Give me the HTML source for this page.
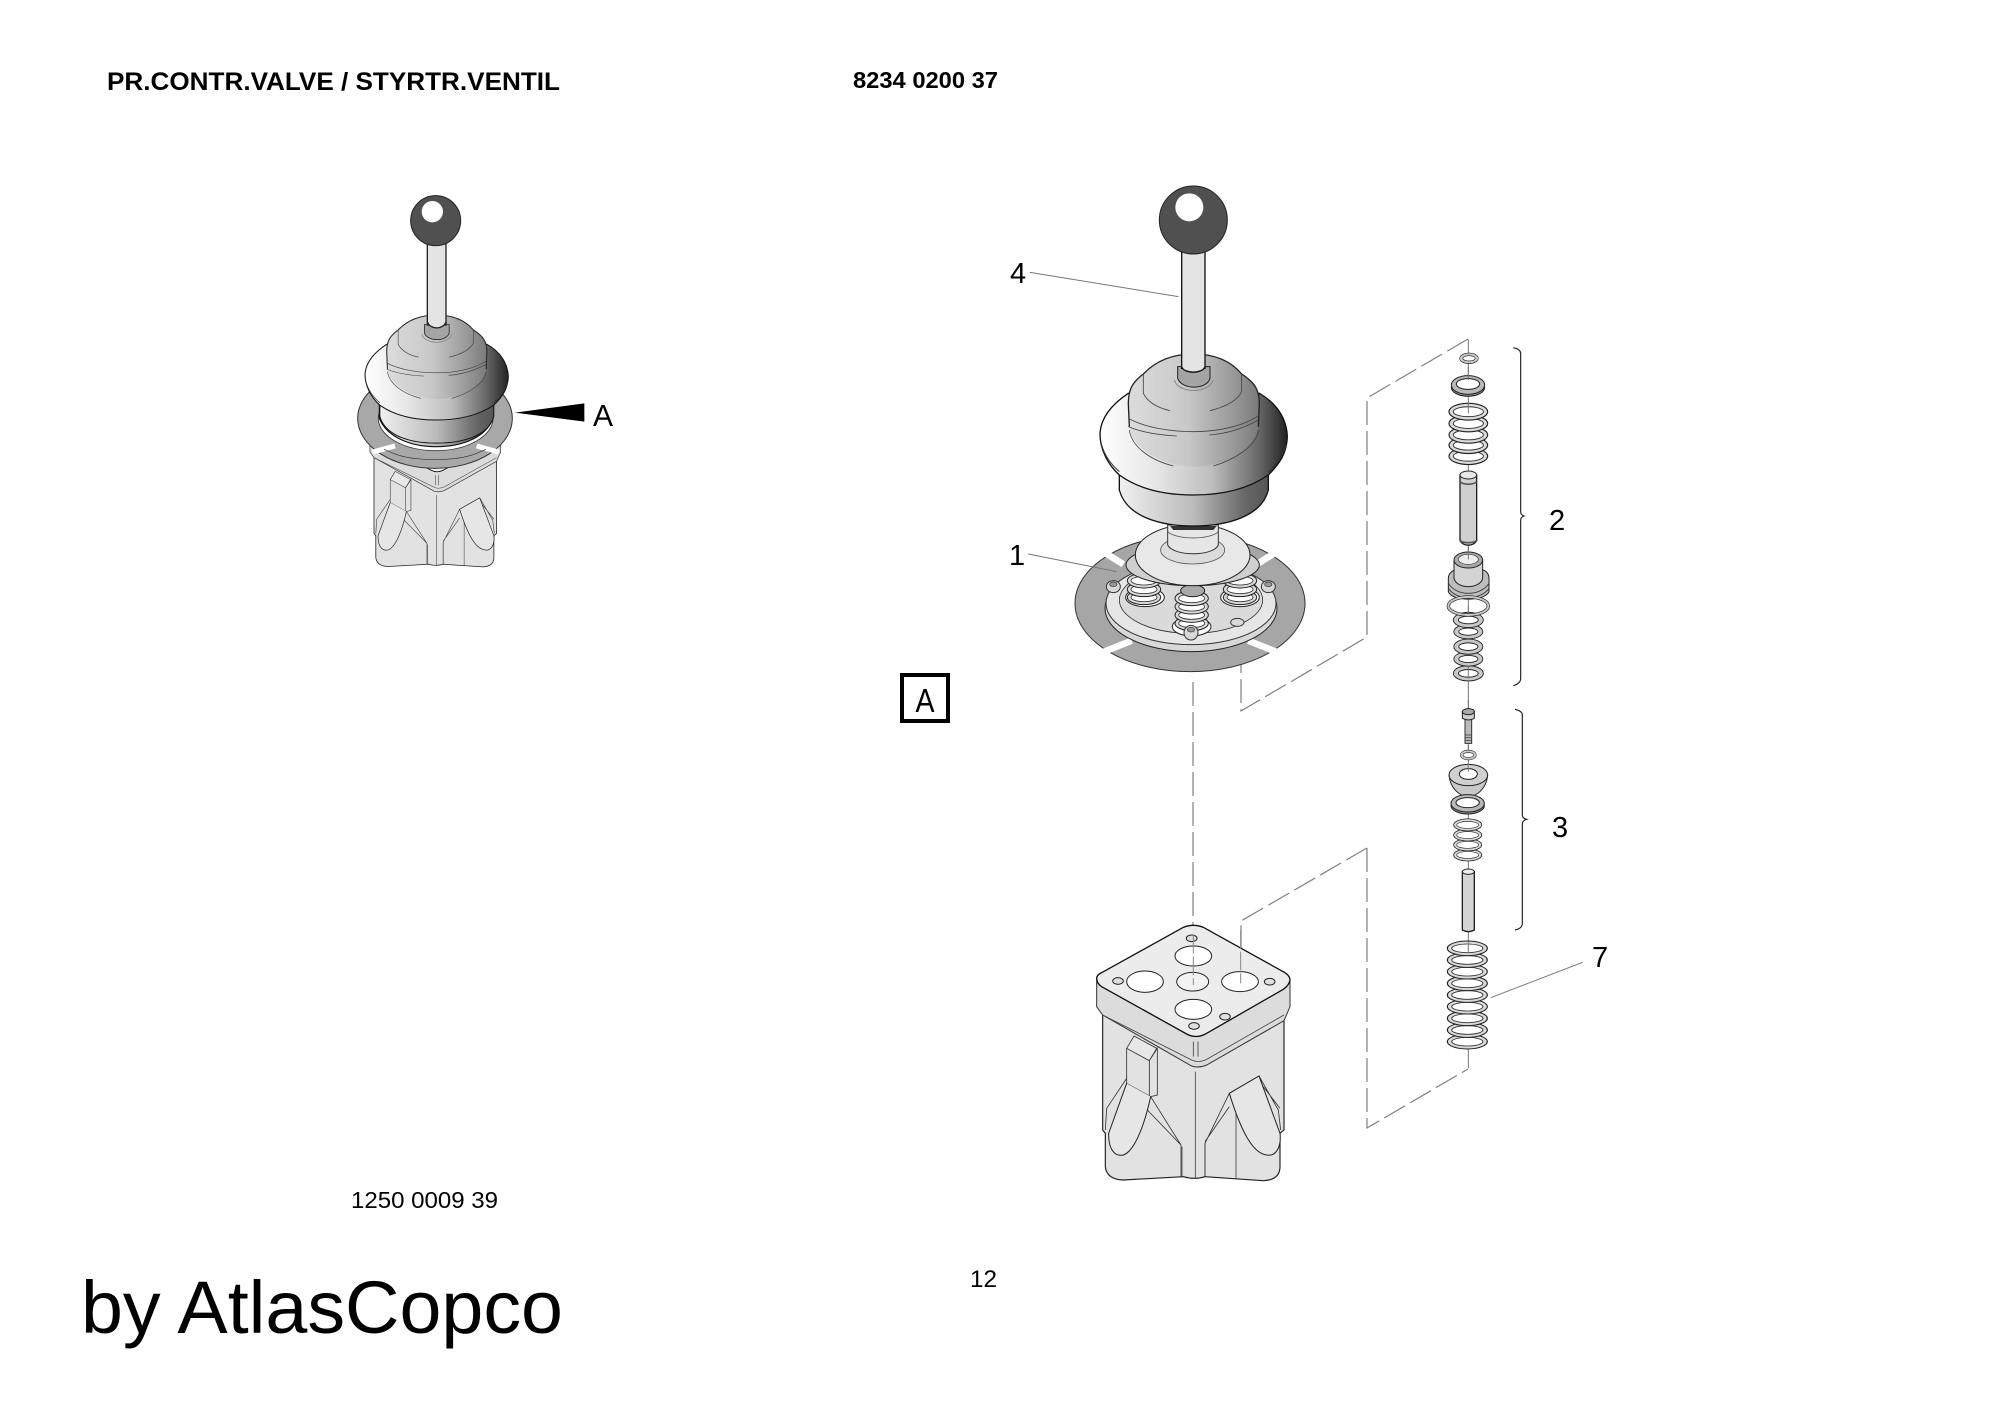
<!DOCTYPE html>
<html><head><meta charset="utf-8"><style>
html,body{margin:0;padding:0;background:#fff}
svg{display:block}
text{font-family:"Liberation Sans",sans-serif;fill:#000}
</style></head><body>
<svg xmlns="http://www.w3.org/2000/svg" width="2000" height="1413" viewBox="0 0 2000 1413">
<defs>
<linearGradient id="gf" x1="0" x2="1" y1="0" y2="0"><stop offset="0" stop-color="#fff"/><stop offset=".3" stop-color="#e6e6e6"/><stop offset=".6" stop-color="#bdbdbd"/><stop offset=".85" stop-color="#666"/><stop offset="1" stop-color="#222"/></linearGradient>
<linearGradient id="gb" x1="0" x2="1" y1="0" y2="0"><stop offset="0" stop-color="#dcdcdc"/><stop offset=".45" stop-color="#c8c8c8"/><stop offset=".8" stop-color="#999"/><stop offset="1" stop-color="#7a7a7a"/></linearGradient>
<linearGradient id="gc" x1="0" x2="1" y1="0" y2="0"><stop offset="0" stop-color="#f0f0f0"/><stop offset=".5" stop-color="#bbb"/><stop offset=".85" stop-color="#666"/><stop offset="1" stop-color="#555"/></linearGradient>
<g id="boot">
<path d="M358,900L358,960C380,1040 480,1068 580,1068C680,1068 785,1040 805,960L805,900Z" fill="url(#gc)" stroke="#111" stroke-width="4"/>
<path d="M300,790C303,740 340,700 385,670L778,670C830,700 860,745 862,800C860,850 840,880 805,915C740,960 660,975 580,975C500,975 420,960 358,915C325,885 300,840 300,790Z" fill="url(#gf)" stroke="#111" stroke-width="4"/>
<path d="M305,825C315,860 335,885 358,905M858,825C848,860 828,885 805,905" fill="none" stroke="#333" stroke-width="3"/>
<path d="M385,700C385,655 400,635 430,612C470,570 520,552 580,552C640,552 690,570 725,612C760,635 778,655 778,700L775,770C770,830 680,890 580,890C480,890 392,830 388,770Z" fill="url(#gb)"/>
<path d="M388,770L385,700C385,655 400,635 430,612C470,570 520,552 580,552C640,552 690,570 725,612C760,635 778,655 778,700L775,770" fill="none" stroke="#222" stroke-width="4"/>
<path d="M430,612L430,670C445,700 480,715 510,722M725,612L725,665C710,695 670,712 630,722M385,745C440,775 520,785 580,785C650,785 730,770 778,735M385,770C420,785 470,795 530,798M628,795C690,790 740,770 775,750M388,780C395,830 450,870 520,888M640,888C700,870 770,830 775,780" fill="none" stroke="#444" stroke-width="2.5"/>
<path d="M533,590L533,625C545,660 620,660 630,625L630,590Z" fill="#a4a4a4" stroke="#222" stroke-width="3"/>
<path d="M523,630C535,672 625,672 640,630" fill="none" stroke="#888" stroke-width="3"/>
</g>
<g id="block">
<path d="M128,340L128,690L136,700L136,800Q140,838 190,840L370,830Q405,840 435,830L610,842Q660,840 660,800L660,700L672,690L672,350L420,500Z" fill="#e2e2e2" stroke="#222" stroke-width="3.5"/>
<path d="M110,235L110,320L128,345L395,498Q415,505 440,495L672,362L690,320L690,240L420,300Z" fill="#dcdcdc" stroke="#333" stroke-width="3"/>
<path d="M110,235Q110,225 125,218L370,82Q400,70 430,82L675,218Q690,228 690,240Q688,255 670,268L440,400Q410,418 380,402L125,260Q110,250 110,235Z" fill="#ececec" stroke="#111" stroke-width="4"/>
<path d="M128,345L395,480Q415,490 440,478L672,345" fill="none" stroke="#444" stroke-width="2.5"/>
<g fill="#fff" stroke="#222" stroke-width="3">
<ellipse cx="255" cy="245" rx="55" ry="32"/><ellipse cx="400" cy="168" rx="55" ry="30"/><ellipse cx="400" cy="328" rx="55" ry="30"/><ellipse cx="540" cy="245" rx="55" ry="30"/>
</g>
<ellipse cx="398" cy="245" rx="48" ry="28" fill="#f2f2f2" stroke="#222" stroke-width="3"/>
<g fill="#e0e0e0" stroke="#222" stroke-width="3">
<ellipse cx="174" cy="243" rx="16" ry="10"/><ellipse cx="629" cy="245" rx="16" ry="10"/><ellipse cx="495" cy="350" rx="16" ry="10"/><ellipse cx="402" cy="378" rx="16" ry="10"/><ellipse cx="395" cy="115" rx="16" ry="10"/>
</g>
<path d="M400,425V470M414,425V470M406,515V835M366,740V830M435,730V830M528,640V835" fill="none" stroke="#444" stroke-width="2.5"/>
<path d="M222,408L290,445L268,482L200,445Z" fill="#e8e8e8" stroke="#333" stroke-width="2.5"/>
<path d="M200,445L200,550L272,590L292,585L292,445L268,482L268,590" fill="#e2e2e2" stroke="#333" stroke-width="2.5"/>
<path d="M200,535L140,625L136,690M272,590L363,735V830M262,630L363,735" fill="none" stroke="#333" stroke-width="2.5"/>
<path d="M200,550L146,700C145,750 165,770 190,765C220,755 250,690 272,590" fill="#e6e6e6" stroke="#222" stroke-width="3"/>
<path d="M597,528L508,580L435,730V830M508,620L435,725M597,528L655,630L662,690M610,560L660,625" fill="none" stroke="#333" stroke-width="2.5"/>
<path d="M508,580L597,528L660,700C665,745 645,770 620,765C580,760 545,700 508,580Z" fill="#e6e6e6" stroke="#222" stroke-width="3"/>
</g>
<g id="coil"><ellipse rx="50" ry="22" fill="#dadada" stroke="#222" stroke-width="3"/><ellipse rx="39" ry="13" fill="#fff" stroke="#333" stroke-width="2.5"/></g>
<g id="ring"><ellipse rx="50" ry="24" fill="#c8c8c8" stroke="#222" stroke-width="3"/><ellipse rx="33" ry="12" fill="#fff" stroke="#222" stroke-width="3"/></g>
</defs>
<rect width="2000" height="1413" fill="#fff"/>

<!-- dashed connectors -->
<g fill="none" stroke="#808080" stroke-width="1.2" stroke-dasharray="24 6">
<path d="M1468,339L1367,398L1367,637L1241,711L1241,665"/>
<path d="M1367,848L1241,921L1241,985"/>
<path d="M1193,682L1193,987"/>
<path d="M1367,848L1367,1128L1468,1069"/>
</g>

<!-- small joystick -->
<g transform="translate(300 170) scale(.33333)">
<use href="#block" transform="translate(222 965) scale(.676 .66) translate(-128 -500)"/>
<ellipse cx="405" cy="745" rx="232" ry="150" fill="#a8a8a8" stroke="#333" stroke-width="3"/>
<path d="M285,828L218,846M530,828L596,846" stroke="#fff" stroke-width="15"/>
<path d="M252,838L280,850C340,875 470,875 530,850L558,838" fill="none" stroke="#333" stroke-width="2"/>
<ellipse cx="407" cy="745" rx="172" ry="97" fill="#fff" stroke="#333" stroke-width="2.5"/>
<path d="M238,650L238,745C260,800 330,830 408,830C490,830 560,800 578,745L578,650Z" fill="url(#gc)" stroke="#111" stroke-width="3.5"/>
<use href="#boot" transform="translate(410 435) scale(.765 .745) translate(-581 -552)"/>
<rect x="382" y="200" width="56" height="265" fill="#e4e4e4" stroke="#222" stroke-width="4"/>
<path d="M382,455C390,480 430,480 438,455" fill="#e4e4e4" stroke="#222" stroke-width="4"/>
<circle cx="407" cy="152" r="75" fill="#505050" stroke="#222" stroke-width="3"/>
<circle cx="397" cy="125" r="32" fill="#fff"/>
<path d="M645,728L853,700L853,755Z" fill="#000"/>
</g>

<!-- large joystick -->
<g transform="translate(1000 170) scale(.33333)">
<!-- flange -->
<ellipse cx="570" cy="1300" rx="345" ry="205" fill="#a6a6a6" stroke="#333" stroke-width="3"/>
<path d="M395,1412L300,1450M745,1412L840,1450M370,1183L290,1133M770,1183L850,1133" stroke="#fff" stroke-width="20"/>
<ellipse cx="573" cy="1315" rx="258" ry="130" fill="#d8d8d8" stroke="#222" stroke-width="3"/>
<ellipse cx="573" cy="1300" rx="255" ry="124" fill="#e6e6e6" stroke="#333" stroke-width="3"/>
<ellipse cx="573" cy="1290" rx="215" ry="100" fill="#dadada" stroke="#333" stroke-width="2.5"/>
<ellipse cx="435" cy="1282" rx="58" ry="28" fill="#fff" stroke="#222" stroke-width="3"/>
<ellipse cx="720" cy="1282" rx="58" ry="28" fill="#fff" stroke="#222" stroke-width="3"/>
<ellipse cx="575" cy="1370" rx="58" ry="28" fill="#fff" stroke="#222" stroke-width="3"/>
<use href="#coil" transform="translate(432 1282)"/><use href="#coil" transform="translate(432 1258)"/><use href="#coil" transform="translate(432 1232)"/>
<use href="#coil" transform="translate(720 1282)"/><use href="#coil" transform="translate(720 1258)"/><use href="#coil" transform="translate(720 1232)"/>
<use href="#coil" transform="translate(575 1360)"/><use href="#coil" transform="translate(575 1335)"/><use href="#coil" transform="translate(575 1310)"/><use href="#coil" transform="translate(575 1285)"/>
<ellipse cx="578" cy="1262" rx="36" ry="18" fill="#aaa" stroke="#222" stroke-width="3"/>
<g fill="#d8d8d8" stroke="#333" stroke-width="3"><ellipse cx="340" cy="1250" rx="21" ry="18"/><ellipse cx="805" cy="1250" rx="21" ry="18"/><ellipse cx="573" cy="1388" rx="21" ry="22"/><ellipse cx="712" cy="1357" rx="20" ry="12"/></g>
<g fill="#999" stroke="#333" stroke-width="2"><ellipse cx="340" cy="1243" rx="11" ry="7"/><ellipse cx="805" cy="1243" rx="11" ry="7"/><ellipse cx="573" cy="1379" rx="11" ry="7"/></g>
<!-- discs -->
<ellipse cx="578" cy="1185" rx="200" ry="62" fill="#cfcfcf" stroke="#222" stroke-width="3"/>
<ellipse cx="578" cy="1155" rx="172" ry="92" fill="#e8e8e8" stroke="#222" stroke-width="3"/>
<ellipse cx="578" cy="1140" rx="96" ry="42" fill="#dcdcdc" stroke="#555" stroke-width="2.5"/>
<path d="M503,1065L503,1125C520,1160 640,1160 655,1125L655,1065Z" fill="#e6e6e6" stroke="#333" stroke-width="3"/>
<path d="M503,1085C530,1110 630,1110 655,1085" fill="none" stroke="#555" stroke-width="2.5"/>
<path d="M510,1068L650,1068L640,1080L520,1080Z" fill="#333"/>
<use href="#boot"/>
<rect x="545" y="230" width="70" height="365" fill="#e4e4e4" stroke="#111" stroke-width="4"/>
<path d="M545,590C552,612 608,612 615,590" fill="#e4e4e4" stroke="#111" stroke-width="4"/>
<circle cx="580" cy="150" r="102" fill="#505050" stroke="#222" stroke-width="3"/>
<circle cx="568" cy="112" r="42" fill="#fff"/>
<!-- leaders -->
<path d="M90,307L535,380M85,1152L350,1205" stroke="#777" stroke-width="3" fill="none"/>
</g>

<!-- base block -->
<g transform="translate(1060 900) scale(.33333)">
<use href="#block"/>
<path d="M400,105V255M542,90V250" fill="none" stroke="#888" stroke-width="3" stroke-dasharray="55 10"/>
</g>

<!-- parts column upper -->
<g transform="translate(1400 330) scale(.33333)">
<path d="M205,28V1140" stroke="#777" stroke-width="3" fill="none"/>
<use href="#ring" transform="translate(207 85) scale(.56 .66)"/>
<ellipse cx="204" cy="172" rx="50" ry="27" fill="#888" stroke="#222" stroke-width="3"/>
<ellipse cx="204" cy="165" rx="50" ry="28" fill="#b8b8b8" stroke="#222" stroke-width="3"/>
<ellipse cx="204" cy="162" rx="35" ry="16" fill="#fff" stroke="#222" stroke-width="3"/>
<g transform="translate(205 0) scale(1.16 1.14)">
<use href="#coil" y="332"/><use href="#coil" y="303"/><use href="#coil" y="276"/><use href="#coil" y="246"/><use href="#coil" y="215"/>
</g>
<path d="M180,435V632C190,650 220,650 230,632V435Z" fill="#d0d0d0" stroke="#222" stroke-width="4"/>
<ellipse cx="205" cy="435" rx="25" ry="12" fill="#e8e8e8" stroke="#222" stroke-width="3"/>
<path d="M180,455C190,465 220,465 230,455M180,632C190,640 220,640 230,632" fill="none" stroke="#555" stroke-width="5"/>
<path d="M145,745C145,725 165,720 162,720L248,720C250,720 267,725 267,745V785C255,815 155,815 145,785Z" fill="#bdbdbd" stroke="#222" stroke-width="3"/>
<path d="M145,760C170,800 240,800 267,760M145,775C170,812 240,812 267,775" fill="none" stroke="#333" stroke-width="2.5"/>
<path d="M162,690V745C170,778 240,778 248,745V690Z" fill="#d4d4d4" stroke="#222" stroke-width="3"/>
<ellipse cx="205" cy="690" rx="43" ry="24" fill="#aaa" stroke="#222" stroke-width="3"/>
<ellipse cx="205" cy="688" rx="30" ry="15" fill="#eee" stroke="#333" stroke-width="2"/>
<use href="#ring" transform="translate(205 1030) scale(.9 .95)"/>
<use href="#ring" transform="translate(205 987) scale(.87 .9)"/>
<use href="#ring" transform="translate(205 950) scale(.87 .95)"/>
<use href="#ring" transform="translate(205 905) scale(.87 .9)"/>
<use href="#ring" transform="translate(205 870) scale(.9 .95)"/>
<ellipse cx="205" cy="828" rx="60" ry="27" fill="none" stroke="#222" stroke-width="10"/>
<ellipse cx="205" cy="828" rx="60" ry="27" fill="none" stroke="#c8c8c8" stroke-width="6"/>
<path d="M205,110V150M205,218V250M205,650V688M205,830V850M205,1010V1045" stroke="#777" stroke-width="3"/>
<path d="M340,53Q362,58 362,70L362,545Q362,555 372,558Q362,562 362,570L362,1045Q362,1060 340,1067" fill="none" stroke="#222" stroke-width="3.5"/>
</g>

<!-- parts column lower -->
<g transform="translate(1400 700) scale(.33333)">
<path d="M205,0V1105" stroke="#777" stroke-width="3" fill="none"/>
<path d="M195,50H215V130H195Z" fill="#bbb" stroke="#333" stroke-width="3"/>
<path d="M195,105H215M195,113H215M195,121H215" stroke="#555" stroke-width="3"/>
<path d="M187,35V55Q205,65 223,55V35Z" fill="#ccc" stroke="#222" stroke-width="3"/>
<ellipse cx="205" cy="35" rx="18" ry="9" fill="#aaa" stroke="#222" stroke-width="3"/>
<use href="#ring" transform="translate(205 165) scale(.48 .62)"/>
<path d="M147,225C150,265 180,290 205,290C230,290 260,265 263,225Z" fill="#c8c8c8" stroke="#222" stroke-width="3"/>
<ellipse cx="205" cy="225" rx="58" ry="32" fill="#d0d0d0" stroke="#222" stroke-width="3"/>
<ellipse cx="205" cy="222" rx="27" ry="16" fill="#fff" stroke="#222" stroke-width="3"/>
<ellipse cx="203" cy="317" rx="50" ry="25" fill="#888" stroke="#222" stroke-width="3"/>
<ellipse cx="203" cy="310" rx="50" ry="26" fill="#b8b8b8" stroke="#222" stroke-width="3"/>
<ellipse cx="203" cy="308" rx="35" ry="15" fill="#fff" stroke="#222" stroke-width="3"/>
<g transform="translate(203 0) scale(.84 .82)">
<use href="#coil" y="567"/><use href="#coil" y="530"/><use href="#coil" y="494"/><use href="#coil" y="457"/>
</g>
<path d="M187,515V690Q205,700 223,690V515Z" fill="#d4d4d4" stroke="#222" stroke-width="4"/>
<ellipse cx="205" cy="515" rx="18" ry="8" fill="#eee" stroke="#222" stroke-width="3"/>
<g transform="translate(202 0) scale(1.2 1)">
<use href="#coil" y="1025"/><use href="#coil" y="990"/><use href="#coil" y="955"/><use href="#coil" y="920"/><use href="#coil" y="885"/><use href="#coil" y="850"/><use href="#coil" y="815"/><use href="#coil" y="780"/><use href="#coil" y="745"/>
</g>
<path d="M205,135V150M205,190V215M205,725V760" stroke="#777" stroke-width="3"/>
<path d="M345,28Q367,33 367,45L367,345Q367,355 380,358Q367,362 367,372L367,670Q367,685 345,690" fill="none" stroke="#222" stroke-width="3.5"/>
<path d="M272,893L548,787" stroke="#777" stroke-width="3" fill="none"/>
</g>

<!-- box A -->
<rect x="902" y="675" width="46" height="46" fill="#fff" stroke="#000" stroke-width="4"/>

<!-- labels -->
<text x="107" y="90" font-size="25" font-weight="bold" textLength="453" lengthAdjust="spacingAndGlyphs">PR.CONTR.VALVE / STYRTR.VENTIL</text>
<text x="853" y="88" font-size="23" font-weight="bold" textLength="145" lengthAdjust="spacingAndGlyphs">8234 0200 37</text>
<text x="351" y="1208" font-size="23" textLength="147" lengthAdjust="spacingAndGlyphs">1250 0009 39</text>
<text x="81" y="1333" font-size="74" textLength="482" lengthAdjust="spacingAndGlyphs">by AtlasCopco</text>
<text x="970" y="1287" font-size="24" textLength="27" lengthAdjust="spacingAndGlyphs">12</text>
<text x="925" y="712" font-size="33" text-anchor="middle" textLength="19" lengthAdjust="spacingAndGlyphs">A</text>
<text x="593" y="426" font-size="31" textLength="20" lengthAdjust="spacingAndGlyphs">A</text>
<text x="1010" y="283" font-size="29">4</text>
<text x="1009" y="565" font-size="29">1</text>
<text x="1549" y="530" font-size="29">2</text>
<text x="1552" y="837" font-size="29">3</text>
<text x="1592" y="967" font-size="29">7</text>
</svg>
</body></html>
